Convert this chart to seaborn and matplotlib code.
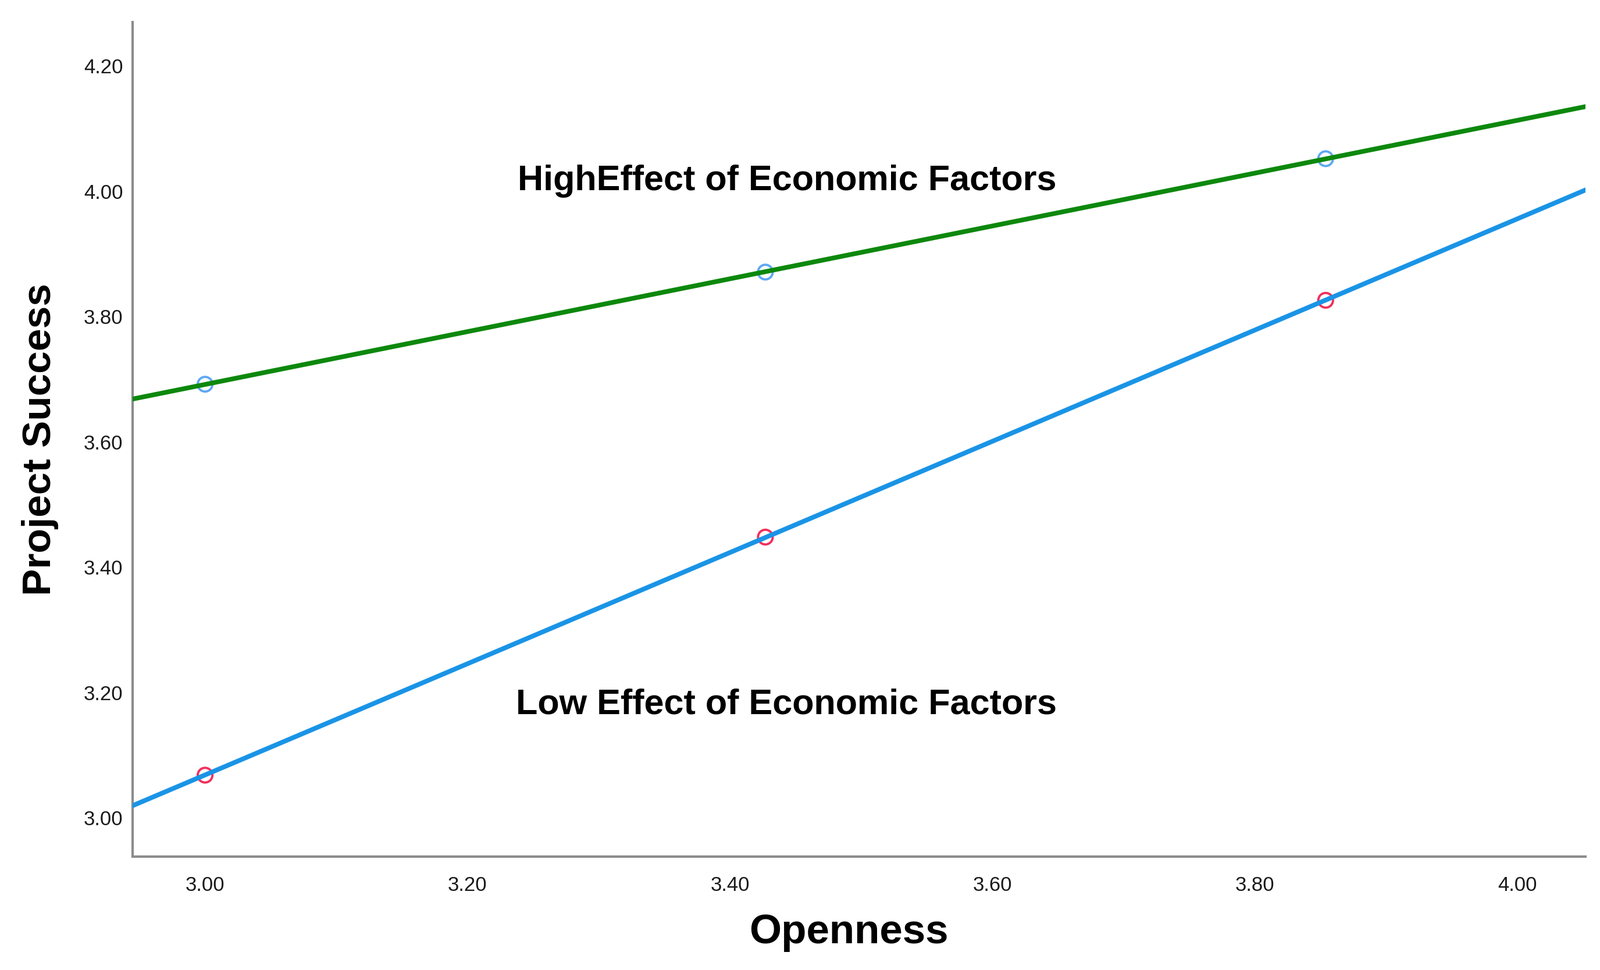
import numpy as np
import pandas as pd
import matplotlib
matplotlib.use("Agg")
import matplotlib.pyplot as plt
import seaborn as sns

# ---- data ----
openness = [3.00, 3.427, 3.854]
high_effect = [3.692, 3.871, 4.052]
low_effect = [3.068, 3.448, 3.826]
x_ticks = [3.00, 3.20, 3.40, 3.60, 3.80, 4.00]
y_ticks = [3.00, 3.20, 3.40, 3.60, 3.80, 4.00, 4.20]
label_high = "HighEffect of Economic Factors"
label_low = "Low Effect of Economic Factors"

df_high = pd.DataFrame({"Openness": openness, "Project Success": high_effect})
df_low = pd.DataFrame({"Openness": openness, "Project Success": low_effect})

sns.set_theme(style="white")
plt.rcParams["font.family"] = ["Liberation Sans", "DejaVu Sans"]

fig = plt.figure(figsize=(27.51, 16.68), dpi=100)
ax = fig.add_axes([0.0829, 0.1169, 0.9910 - 0.0829, 0.9772 - 0.1169])

XLIM = (2.9448, 4.0521)
YLIM = (2.938, 4.270)
ax.set_xlim(*XLIM)
ax.set_ylim(*YLIM)

green = "#0c880c"
blue = "#1a94e6"
ring_blue = "#5ea8f2"
ring_red = "#f0305c"

# fitted lines spanning the whole x range
sns.regplot(data=df_high, x="Openness", y="Project Success", ax=ax, scatter=False,
            ci=None, truncate=False, color=green, line_kws={"lw": 5.8, "zorder": 3})
ax.set_xlim(*XLIM)
sns.regplot(data=df_low, x="Openness", y="Project Success", ax=ax, scatter=False,
            ci=None, truncate=False, color=blue, line_kws={"lw": 5.8, "zorder": 3})

# hollow markers at the observed points
sns.scatterplot(data=df_high, x="Openness", y="Project Success", ax=ax, marker="o",
                s=330, facecolor="none", edgecolor=ring_blue, linewidth=2.8, zorder=2)
sns.scatterplot(data=df_low, x="Openness", y="Project Success", ax=ax, marker="o",
                s=330, facecolor="none", edgecolor=ring_red, linewidth=2.8, zorder=2)

ax.set_xlim(*XLIM)
ax.set_ylim(*YLIM)

ax.set_xticks(x_ticks)
ax.set_yticks(y_ticks)
ax.set_xticklabels([f"{v:.2f}" for v in x_ticks])
ax.set_yticklabels([f"{v:.2f}" for v in y_ticks])
ax.tick_params(axis="x", length=0, pad=24, labelsize=25, labelcolor="#1a1a1a")
ax.tick_params(axis="y", length=0, pad=12, labelsize=25, labelcolor="#1a1a1a")

for side in ["top", "right"]:
    ax.spines[side].set_visible(False)
for side in ["left", "bottom"]:
    ax.spines[side].set_color("#8c8c8c")
    ax.spines[side].set_linewidth(3.0)

ax.set_xlabel("Openness", fontsize=51, fontweight="bold", color="black")
ax.set_ylabel("Project Success", fontsize=50, fontweight="bold", color="black")
ax.xaxis.set_label_coords(0.493, -0.068)
ax.yaxis.set_label_coords(-0.051, 0.5)

ax.text(3.649, 4.002, label_high, ha="right", va="baseline",
        fontsize=44, fontweight="bold", color="black")
ax.text(3.649, 3.166, label_low, ha="right", va="baseline",
        fontsize=44, fontweight="bold", color="black")

ax.grid(False)
fig.savefig("out.png", dpi=100, facecolor="white")
